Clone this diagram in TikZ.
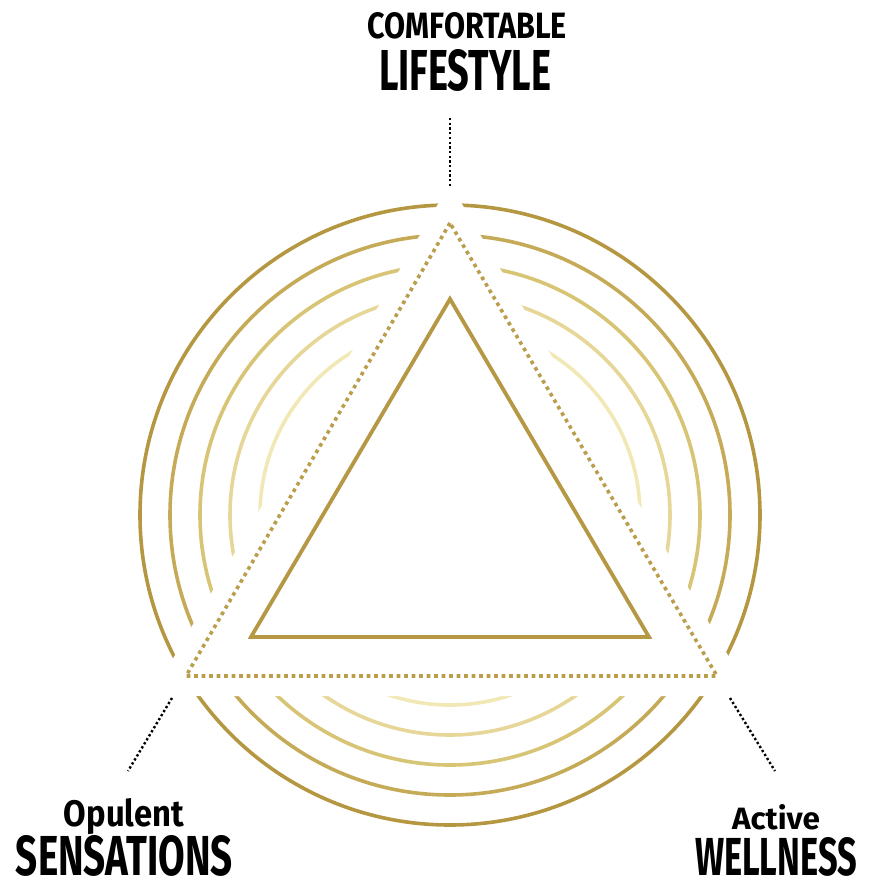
\documentclass[tikz,border=0pt]{standalone}
\usepackage{fontspec}
\usepackage{graphicx}
\newfontfamily\labfont{Fira Sans}
\definecolor{goldA}{RGB}{181,151,66}
\definecolor{goldB}{RGB}{197,171,88}
\definecolor{goldC}{RGB}{215,196,117}
\definecolor{goldD}{RGB}{230,215,152}
\definecolor{goldE}{RGB}{242,232,182}
\definecolor{goldT}{RGB}{182,152,68}
\definecolor{goldDot}{RGB}{186,158,76}
\begin{document}
\begin{tikzpicture}[x=1pt,y=-1pt,
  ring/.style={line width=3.6pt},
  whiteband/.style={fill=white,draw=white,line width=40pt,line join=miter},
  dottri/.style={draw=goldDot,line width=3.6pt,dash pattern=on 3.6pt off 3.9pt},
  solidtri/.style={draw=goldT,line width=3.8pt,line join=miter},
  leader/.style={draw=black,line width=2.4pt,dash pattern=on 2.3pt off 2.4pt},
  lbl/.style={inner sep=0pt,anchor=base,text=black}]
\useasboundingbox (0,0) rectangle (876,889);
% concentric rings
\coordinate (O) at (450,515);
\draw[ring,goldA] (O) circle[radius=310];
\draw[ring,goldB] (O) circle[radius=280];
\draw[ring,goldC] (O) circle[radius=250];
\draw[ring,goldD] (O) circle[radius=220];
\draw[ring,goldE] (O) circle[radius=190];
% triangle corners
\coordinate (T) at (450,223);
\coordinate (L) at (186,676);
\coordinate (R) at (717,676);
% white band cutting rings
\path[whiteband] (T) -- (L) -- (R) -- cycle;
% dotted triangle
\draw[dottri] (T) -- (L) -- (R) -- cycle;
% inner solid triangle
\coordinate (iT) at (450,299);
\coordinate (iL) at (251,637);
\coordinate (iR) at (649,637);
\draw[solidtri] (iT) -- (iL) -- (iR) -- cycle;
% labels
\node[lbl] (comf) at (467.5,38) {\resizebox{199pt}{26pt}{\labfont\bfseries COMFORTABLE}};
\node[lbl] (life) at (465,90.5) {\resizebox{172pt}{41pt}{\labfont\bfseries LIFESTYLE}};
\node[lbl] (opul) at (124,826) {\resizebox{120pt}{28pt}{\labfont\bfseries Opulent}};
\node[lbl] (sens) at (124.5,875) {\resizebox{217pt}{40pt}{\labfont\bfseries SENSATIONS}};
\node[lbl] (act) at (776,829) {\resizebox{88pt}{25pt}{\labfont\bfseries Active}};
\node[lbl] (well) at (776,875) {\resizebox{162pt}{38pt}{\labfont\bfseries WELLNESS}};
% leaders
\coordinate (topA) at (450,118);
\coordinate (topB) at (450,186);
\coordinate (blA) at (172,698);
\coordinate (blB) at (128,771);
\coordinate (brA) at (730,698);
\coordinate (brB) at (775,771);
\draw[leader] (topA) -- (topB);
\draw[leader] (blA) -- (blB);
\draw[leader] (brA) -- (brB);
\end{tikzpicture}
\end{document}
